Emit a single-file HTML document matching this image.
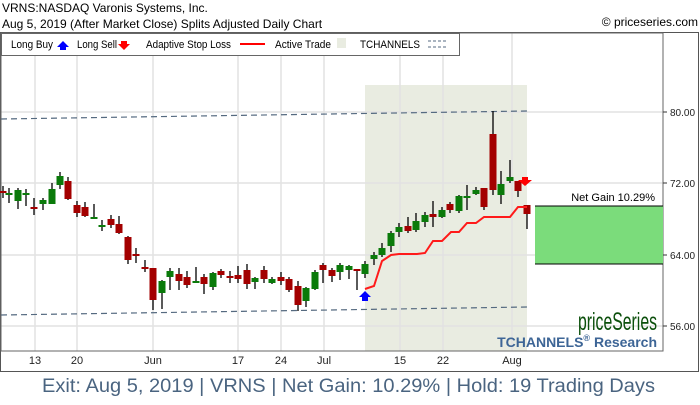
<!DOCTYPE html>
<html><head><style>
body{margin:0;background:#fff;width:700px;height:400px;overflow:hidden;font-family:"Liberation Sans",sans-serif}
</style></head><body>
<svg width="700" height="400" xmlns="http://www.w3.org/2000/svg" font-family="Liberation Sans, sans-serif">
<text x="2" y="12" font-size="12">VRNS:NASDAQ Varonis Systems, Inc.</text>
<text x="2" y="28" font-size="12">Aug 5, 2019 (After Market Close)  Splits Adjusted Daily Chart</text>
<text x="698" y="26" font-size="12" text-anchor="end">© priceseries.com</text>
<rect x="0.5" y="32.5" width="698" height="339" fill="none" stroke="#555"/>
<rect x="365" y="85" width="162" height="266" fill="#e9ece1"/>
<g stroke="#e2e2e2" stroke-width="1.5">
<line x1="35" y1="33" x2="35" y2="351"/><line x1="77" y1="33" x2="77" y2="351"/><line x1="153" y1="33" x2="153" y2="351"/><line x1="238" y1="33" x2="238" y2="351"/><line x1="281" y1="33" x2="281" y2="351"/><line x1="324" y1="33" x2="324" y2="351"/><line x1="400" y1="33" x2="400" y2="351"/><line x1="443" y1="33" x2="443" y2="351"/><line x1="512" y1="33" x2="512" y2="351"/>
<line x1="1" y1="112" x2="663" y2="112"/><line x1="1" y1="183" x2="663" y2="183"/><line x1="1" y1="255" x2="663" y2="255"/><line x1="1" y1="326" x2="663" y2="326"/>
</g>
<rect x="1" y="33" width="662" height="318" fill="none" stroke="#666"/>
<g stroke="#556a80" stroke-width="1.2" stroke-dasharray="6,4">
<line x1="1" y1="119" x2="527" y2="111"/><line x1="1" y1="315" x2="527" y2="307"/>
</g>
<rect x="1.5" y="33.5" width="458" height="22" fill="#fff" stroke="#666"/>
<g font-size="11">
<text x="11" y="48" textLength="42" lengthAdjust="spacingAndGlyphs">Long Buy</text><path d="M57 47 l6 -6 l6 6 h-3 v3 h-6 v-3z" fill="#0000ff"/>
<text x="77" y="48" textLength="40" lengthAdjust="spacingAndGlyphs">Long Sell</text><path d="M121 41 h6 v3 h3 l-6 6 l-6 -6 h3z" fill="#ff0000"/>
<text x="146" y="48" textLength="85" lengthAdjust="spacingAndGlyphs">Adaptive Stop Loss</text><line x1="240" y1="44" x2="265" y2="44" stroke="#f00" stroke-width="2"/>
<text x="275" y="48" textLength="56" lengthAdjust="spacingAndGlyphs">Active Trade</text><rect x="337" y="38" width="9" height="10" fill="#e9ece1"/>
<text x="360" y="48" textLength="60" lengthAdjust="spacingAndGlyphs">TCHANNELS</text><g stroke="#556a80" stroke-dasharray="3,2"><line x1="428" y1="41" x2="446" y2="41"/><line x1="428" y1="47" x2="446" y2="47"/></g>
</g>
<g id="c" stroke-width="1.3"></g>
<polyline fill="none" stroke="#ff1a1a" stroke-width="2" points="365,289 374,286 382,261 391,255 399,254 417,254 425,253 433,241 442,241 451,232 459,232 467,223 476,223 484,217 510,217 518,207 527,207"/>
<path d="M359 297 l6 -6 l6 6 h-3 v4 h-6 v-4z" fill="#0000ff"/>
<path d="M522 177 h6 v3 h4 l-7 6 l-7 -6 h4z" fill="#ff0000"/>
<rect x="535" y="206" width="128" height="58" fill="#7bdc7b"/>
<line x1="535" y1="206" x2="663" y2="206" stroke="#000"/><line x1="535" y1="264" x2="663" y2="264" stroke="#000"/>
<text x="655" y="201" font-size="11" text-anchor="end">Net Gain 10.29%</text>
<g font-size="10" fill="#222">
<line x1="663" y1="112" x2="667" y2="112" stroke="#333"/><text x="670" y="116">80.00</text>
<line x1="663" y1="183" x2="667" y2="183" stroke="#333"/><text x="670" y="187">72.00</text>
<line x1="663" y1="255" x2="667" y2="255" stroke="#333"/><text x="670" y="259">64.00</text>
<line x1="663" y1="326" x2="667" y2="326" stroke="#333"/><text x="670" y="330">56.00</text>
</g>
<g font-size="11" fill="#222" text-anchor="middle">
<text x="35" y="364">13</text><text x="77" y="364">20</text><text x="153" y="364">Jun</text><text x="238" y="364">17</text><text x="281" y="364">24</text><text x="324" y="364">Jul</text><text x="400" y="364">15</text><text x="443" y="364">22</text><text x="512" y="364">Aug</text>
</g>
<text x="578" y="330" font-size="25" fill="#0b4f0b" textLength="79" lengthAdjust="spacingAndGlyphs">priceSeries</text>
<text x="657" y="347" font-size="14" font-weight="bold" fill="#3d6596" text-anchor="end">TCHANNELS<tspan font-size="9" dy="-6">®</tspan><tspan dy="6"> Research</tspan></text>
<text x="42" y="392" font-size="19" fill="#4a6480" textLength="613" lengthAdjust="spacingAndGlyphs">Exit: Aug 5, 2019 | VRNS | Net Gain: 10.29% | Hold: 19 Trading Days</text>
</svg>
<script>
var d=[[3,'r',191,193,186,198],[9,'g',193,194,188,203],[18,'g',190,201,188,209],[26,'g',193,194,189,206],[34,'r',207,209,198,215],[43,'g',200,204,198,210],[52,'g',189,204,183,204],[60,'g',176,185,172,189],[68,'r',181,199,177,200],[77,'r',205,213,201,217],[85,'r',207,216,202,217],[94,'g',217,218,204,219],[102,'g',225,226,220,231],[111,'r',219,225,215,228],[119,'r',224,233,216,234],[128,'r',237,260,236,264],[136,'r',254,255,248,263],[145,'r',267,268,260,272],[153,'r',268,300,268,310],[162,'g',281,293,280,309],[170,'g',271,277,268,290],[179,'r',274,281,268,290],[187,'r',277,285,271,288],[196,'g',281,282,267,283],[204,'r',277,284,274,294],[213,'g',273,287,272,290],[221,'r',271,275,269,278],[230,'r',276,278,271,283],[238,'r',275,279,266,283],[247,'r',270,284,264,289],[255,'g',278,282,277,289],[264,'r',270,279,266,283],[272,'g',279,283,277,284],[281,'r',277,281,272,285],[289,'r',279,290,277,292],[298,'r',286,305,281,311],[306,'g',288,301,287,307],[315,'g',272,289,270,290],[323,'r',265,270,263,283],[332,'r',270,276,268,282],[340,'g',265,272,263,280],[349,'g',266,270,265,279],[357,'r',269,271,270,290],[365,'g',264,274,261,278],[374,'g',255,259,252,265],[382,'g',248,255,243,257],[391,'g',233,246,231,252],[399,'g',227,232,223,237],[408,'r',226,231,217,233],[416,'g',221,230,213,232],[425,'g',215,222,212,227],[433,'r',214,217,201,227],[442,'g',210,217,207,218],[450,'r',204,210,202,213],[459,'g',196,211,195,213],[467,'g',196,198,185,210],[476,'g',190,194,187,195],[484,'r',188,207,188,210],[493,'r',134,190,111,195],[501,'g',184,195,171,204],[510,'g',177,181,160,183],[518,'r',181,191,181,197],[527,'r',205,214,205,229]];
var g=document.getElementById('c'),s='';
d.forEach(function(c){var col=c[1]=='r'?'#a30000':'#0a7a0a';var h=Math.max(c[3]-c[2],2);
s+='<line x1="'+c[0]+'" y1="'+c[4]+'" x2="'+c[0]+'" y2="'+c[5]+'" stroke="#000"/>';
s+='<rect x="'+(c[0]-3.5)+'" y="'+c[2]+'" width="7" height="'+h+'" fill="'+col+'"/>';});
g.innerHTML=s;
</script>
</body></html>
